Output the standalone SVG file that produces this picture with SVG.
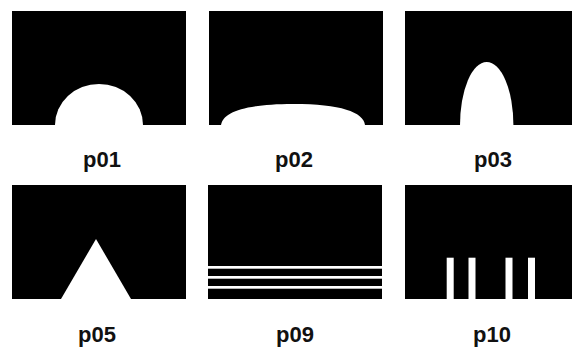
<svg xmlns="http://www.w3.org/2000/svg" width="572" height="347" viewBox="0 0 572 347">
<style>
.bg{fill:#000}
.hole{fill:#fff}
.lbl{font-family:"Liberation Sans",Arial,sans-serif;font-weight:bold;font-size:22px;fill:#111;text-anchor:middle}
</style>
<rect width="572" height="347" fill="#fff"/>
<g id="p01">
<rect class="bg" x="12" y="11" width="174" height="114"/>
<ellipse class="hole" cx="99" cy="125" rx="44" ry="41"/>
<rect class="hole" x="50" y="125" width="100" height="5"/>
<text class="lbl" x="102" y="167">p01</text>
</g>
<g id="p02">
<rect class="bg" x="209" y="11" width="174" height="114"/>
<path class="hole" d="M221,125 C223,112 245,104 293,104 C341,104 363,112 365,125 Z"/>
<text class="lbl" x="294" y="167">p02</text>
</g>
<g id="p03">
<rect class="bg" x="405" y="11" width="174" height="114"/>
<ellipse class="hole" cx="486.7" cy="125" rx="26.7" ry="63"/>
<rect class="hole" x="455" y="125" width="65" height="5"/>
<text class="lbl" x="493" y="167">p03</text>
</g>
<g id="p05">
<rect class="bg" x="12" y="185" width="174" height="114"/>
<polygon class="hole" points="96,239 131,299 61,299"/>
<text class="lbl" x="97" y="342">p05</text>
</g>
<g id="p09">
<rect class="bg" x="208" y="185" width="174" height="114"/>
<rect class="hole" x="208" y="266" width="174" height="2.7"/>
<rect class="hole" x="208" y="276" width="174" height="2.7"/>
<rect class="hole" x="208" y="286" width="174" height="2.7"/>
<text class="lbl" x="295" y="342">p09</text>
</g>
<g id="p10">
<rect class="bg" x="405" y="185" width="174" height="114"/>
<rect class="hole" x="446.7" y="257.7" width="7" height="41.3"/>
<rect class="hole" x="468.5" y="257.7" width="7" height="41.3"/>
<rect class="hole" x="505.5" y="257.7" width="7" height="41.3"/>
<rect class="hole" x="528" y="257.7" width="7" height="41.3"/>
<text class="lbl" x="492" y="342">p10</text>
</g>
</svg>
